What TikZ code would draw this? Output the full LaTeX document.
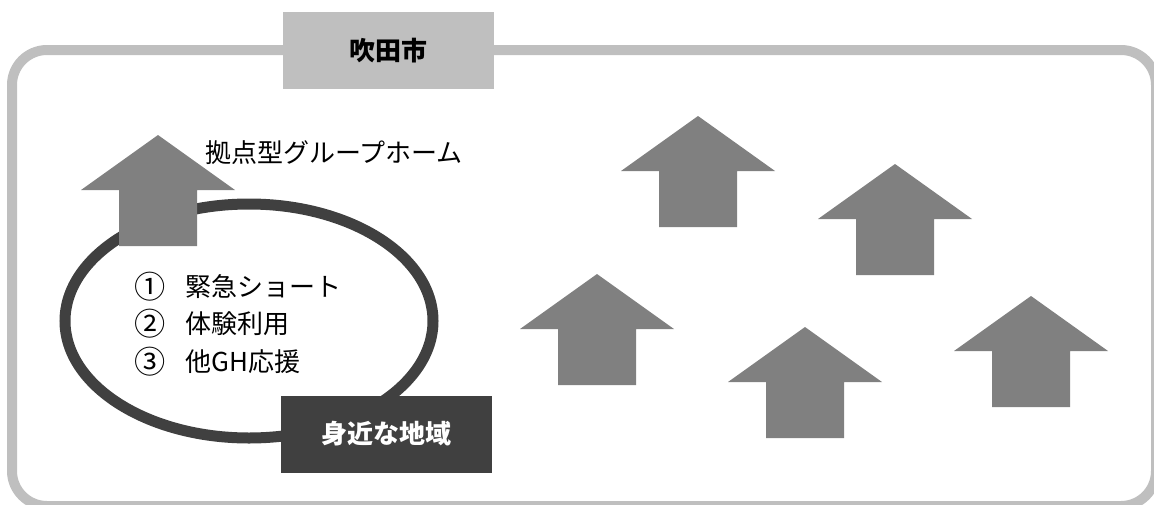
\documentclass[tikz,border=0pt]{standalone}
\usepackage{fontspec}
\setmainfont{Noto Sans CJK JP}
\usetikzlibrary{shapes.geometric}
\definecolor{framegray}{HTML}{BFBFBF}
\definecolor{housegray}{HTML}{808080}
\definecolor{areagray}{HTML}{404040}
\newcommand{\circnum}[1]{\raisebox{-2pt}{\scalebox{1.2}{#1}}\hspace{20pt}}

\begin{document}
\begin{tikzpicture}[x=1pt, y=-1pt,
    frame/.style={draw=framegray, line width=10pt, rounded corners=35pt},
    house/.style={fill=housegray},
    txt/.style={inner sep=0pt, font=\fontsize{26}{37.5}\selectfont},
    namebox/.style={minimum width=211pt, minimum height=77pt, inner sep=0pt, font=\bfseries\fontsize{26}{30}\selectfont},
    area/.style={draw=areagray, ellipse, line width=11pt, minimum width=368pt, minimum height=234pt}]
       \useasboundingbox (0,0) rectangle (1154,504);
       \draw[frame] (12,50) rectangle (1156,506);
       \node[namebox, fill=framegray] (city) at (388.5,50.5) {吹田市};

       \node[area] (local) at (249,321) {};

       % houses: apex of the roof
       \foreach \hx/\hy [count=\i] in {158/135, 698/116, 895/164, 597/274, 805/327, 1031/296}{
         \fill[house] (\hx,\hy) coordinate (h\i) -- ++(77,55) -- ++(-38,0) -- ++(0,56)
           -- ++(-78,0) -- ++(0,-56) -- ++(-38,0) -- cycle;
       }

       \node[txt, anchor=west] (base) at (205,153) {拠点型グループホーム};
       \node[txt, anchor=west, align=left] (roles) at (134,324)
         {\circnum{①}緊急ショート\\\circnum{②}体験利用\\\circnum{③}他GH応援};
       \node[namebox, fill=areagray, text=white] (near) at (386.5,434) {身近な地域};
\end{tikzpicture}
\end{document}
